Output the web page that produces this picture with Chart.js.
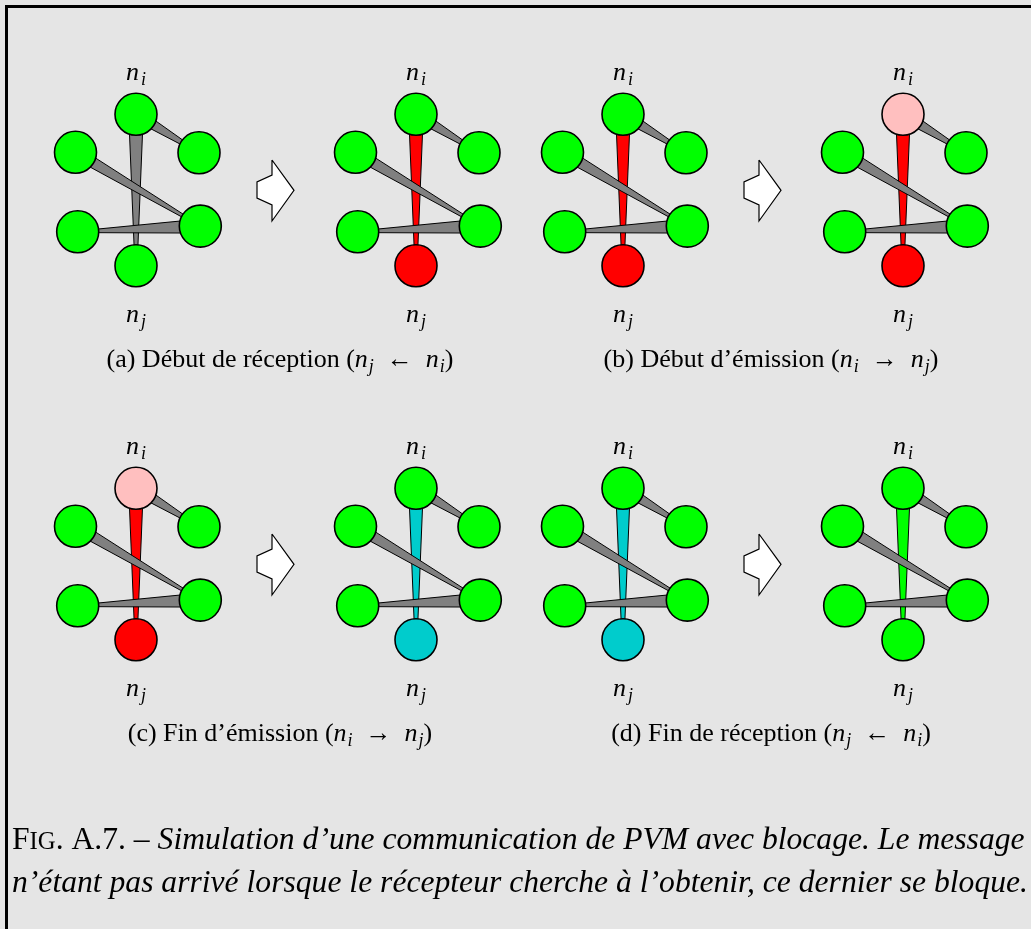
<!DOCTYPE html>
<html>
<head>
<meta charset="utf-8">
<script src="https://cdn.jsdelivr.net/npm/chart.js@4.4.0/dist/chart.umd.min.js"></script>
<style>
  html, body { margin: 0; padding: 0; background: #e5e5e5; }
  #wrap { width: 1031px; height: 929px; }
</style>
</head>
<body>
<div id="wrap"><canvas id="fig" width="1031" height="929"></canvas></div>
<script>
// Graphe : positions des noeuds, relatives au noeud n_i (0 = n_i, 5 = n_j)
const nodeX = [0, -60.5, 63, -58.3, 64.3, 0];
const nodeY = [0, 38, 38.5, 117.5, 111.8, 151.5];
// aretes : [depart, arrivee, demi-largeur au depart, demi-largeur a l'arrivee]
const edges = [[0, 2, 6, 1], [1, 4, 6, 0.8], [3, 4, 0.8, 7], [0, 5, 7.3, 1.1]];
const msgEdge = 3;

// etat des 8 vignettes (ordre : a1 a2 b1 b2 / c1 c2 d1 d2)
const topColors    = ['#00ff00', '#00ff00', '#00ff00', '#ffbfbf', '#ffbfbf', '#00ff00', '#00ff00', '#00ff00'];
const bottomColors = ['#00ff00', '#ff0000', '#ff0000', '#ff0000', '#ff0000', '#00cccc', '#00cccc', '#00ff00'];
const msgColors    = ['#808080', '#ff0000', '#ff0000', '#ff0000', '#ff0000', '#00cccc', '#00cccc', '#00ff00'];

// legendes des sous-figures : [texte, indice gauche, fleche, indice droit]
const subCaptions = [
  ['(a) Début de réception (', 'j', '←', 'i'],
  ['(b) Début d’émission (', 'i', '→', 'j'],
  ['(c) Fin d’émission (', 'i', '→', 'j'],
  ['(d) Fin de réception (', 'j', '←', 'i']
];
const figCaption = [
  'Simulation d’une communication de PVM avec blocage. Le message',
  'n’étant pas arrivé lorsque le récepteur cherche à l’obtenir, ce dernier se bloque.'
];

// mise en page
const panelX = [136, 416, 623, 903];
const rowY = [114.3, 488.3];
const arrowX = [0, 22, 0, 0, -15, -15, 0];
const arrowY = [45.7, 76, 106.7, 90.7, 83.7, 67.7, 60.7];
const SERIF = '"Liberation Serif", "DejaVu Serif", serif';

function wedge(ox, oy, e) {
  const px = ox + nodeX[e[0]], py = oy + nodeY[e[0]];
  const qx = ox + nodeX[e[1]], qy = oy + nodeY[e[1]];
  const len = Math.hypot(qx - px, qy - py);
  const nx = -(qy - py) / len, ny = (qx - px) / len;
  return [
    {x: px + nx * e[2], y: py + ny * e[2]},
    {x: qx + nx * e[3], y: qy + ny * e[3]},
    {x: qx - nx * e[3], y: qy - ny * e[3]},
    {x: px - nx * e[2], y: py - ny * e[2]},
    {x: px + nx * e[2], y: py + ny * e[2]}
  ];
}

const datasets = [];
for (let p = 0; p < 8; p++) {
  const ox = panelX[p % 4], oy = rowY[Math.floor(p / 4)];
  // noeuds
  const colors = nodeX.map((_, i) => i === 0 ? topColors[p] : (i === 5 ? bottomColors[p] : '#00ff00'));
  datasets.push({
    data: nodeX.map((x, i) => ({x: ox + x, y: oy + nodeY[i]})),
    showLine: false,
    pointRadius: 21,
    pointBackgroundColor: colors,
    pointBorderColor: '#000',
    pointBorderWidth: 1.6,
    order: 0
  });
  // aretes (messages)
  edges.forEach((e, k) => {
    datasets.push({
      data: wedge(ox, oy, e),
      borderColor: '#000',
      borderWidth: 1,
      backgroundColor: k === msgEdge ? msgColors[p] : '#808080',
      fill: 'shape',
      pointRadius: 0,
      tension: 0,
      order: 1
    });
  });
}
// fleches entre les vignettes
[0, 2].forEach(c => rowY.forEach(oy => {
  datasets.push({
    data: arrowX.map((x, i) => ({x: panelX[c] + 136 + x, y: oy + arrowY[i]})).concat([{x: panelX[c] + 136, y: oy + arrowY[0]}]),
    borderColor: '#000',
    borderWidth: 1.2,
    backgroundColor: '#ffffff',
    fill: 'shape',
    pointRadius: 0,
    tension: 0,
    order: 2
  });
}));

function drawRuns(ctx, runs, x, y, center) {
  let w = 0;
  runs.forEach(r => { ctx.font = r[1]; r.w = ctx.measureText(r[0]).width + (r[3] || 0); w += r.w; });
  let cx = center ? x - w / 2 : x;
  runs.forEach(r => { ctx.font = r[1]; ctx.fillText(r[0], cx, y + (r[2] || 0)); cx += r.w; });
}

const textPlugin = {
  id: 'texts',
  beforeDraw(chart) {
    const ctx = chart.ctx;
    ctx.save();
    ctx.fillStyle = '#e5e5e5';
    ctx.fillRect(0, 0, chart.width, chart.height);
    ctx.fillStyle = '#000';
    ctx.fillRect(5, 5, chart.width - 5, 3);
    ctx.fillRect(5, 5, 3, chart.height - 5);
    ctx.restore();
  },
  afterDraw(chart) {
    const ctx = chart.ctx, sx = chart.scales.x, sy = chart.scales.y;
    const it = 'italic 26px ' + SERIF, sub = 'italic 18px ' + SERIF;
    ctx.save();
    ctx.fillStyle = '#000';
    ctx.textBaseline = 'alphabetic';
    for (let p = 0; p < 8; p++) {
      const ox = panelX[p % 4], oy = rowY[Math.floor(p / 4)];
      drawRuns(ctx, [['n', it, 0, 2], ['i', sub, 5]], sx.getPixelForValue(ox), sy.getPixelForValue(oy - 34), true);
      drawRuns(ctx, [['n', it, 0, 2], ['j', sub, 5]], sx.getPixelForValue(ox), sy.getPixelForValue(oy + 207.7), true);
    }
    const cf = '26px ' + SERIF, ci = 'italic 26px ' + SERIF, cs = 'italic 18px ' + SERIF;
    subCaptions.forEach((c, k) => {
      const cx = k % 2 === 0 ? 280 : 771;
      const cy = Math.floor(k / 2) === 0 ? 367 : 741;
      drawRuns(ctx, [[c[0], cf], ['n', ci, 0, 1], [c[1], cs, 5], ['  ' + c[2] + '  ', cf], ['n', ci, 0, 1], [c[3], cs, 5], [')', cf]],
        sx.getPixelForValue(cx), sy.getPixelForValue(cy), true);
    });
    // legende de la figure
    const big = '32px ' + SERIF, small = '25px ' + SERIF, itb = 'italic 32px ' + SERIF;
    ctx.font = itb;
    const scaleX = 1016 / ctx.measureText(figCaption[1]).width;
    ctx.translate(12, 0);
    ctx.scale(scaleX, 1);
    drawRuns(ctx, [['F', big], ['IG', small], ['. A.7. – ', big], [figCaption[0], itb]], 0, 849, false);
    drawRuns(ctx, [[figCaption[1], itb]], 0, 892, false);
    ctx.restore();
  }
};

new Chart(document.getElementById('fig'), {
  type: 'line',
  data: { datasets: datasets },
  options: {
    responsive: false,
    animation: false,
    events: [],
    layout: { padding: 0, autoPadding: false },
    plugins: { legend: { display: false }, tooltip: { enabled: false } },
    scales: {
      x: { type: 'linear', min: 0, max: 1031, display: false },
      y: { type: 'linear', min: 0, max: 929, reverse: true, display: false }
    }
  },
  plugins: [textPlugin]
});
</script>
</body>
</html>
